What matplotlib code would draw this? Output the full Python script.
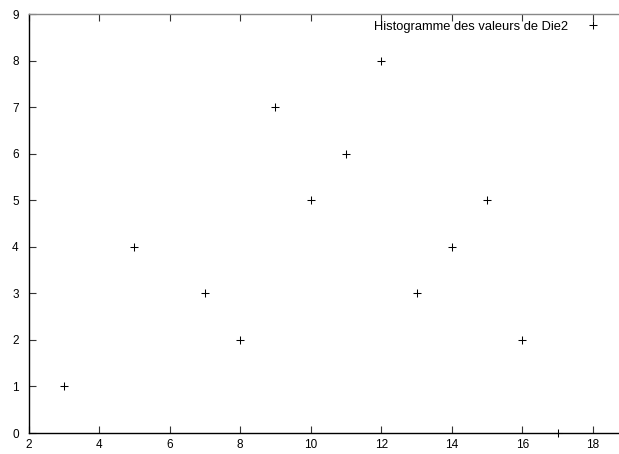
import matplotlib
matplotlib.use("Agg")
import matplotlib.pyplot as plt

# Data
valeurs = [3, 5, 7, 8, 9, 10, 11, 12, 13, 14, 15, 16, 17]
effectifs = [1, 4, 3, 2, 7, 5, 6, 8, 3, 4, 5, 2, 0]
xticks = [2, 4, 6, 8, 10, 12, 14, 16, 18]
yticks = [0, 1, 2, 3, 4, 5, 6, 7, 8, 9]
label = "Histogramme des valeurs de Die2"

plt.rcParams['font.family'] = ['Liberation Sans', 'DejaVu Sans']

fig = plt.figure(figsize=(6.19, 4.54), dpi=100)
ax = fig.add_axes([28.5/619, 21/454, 1 - 28.5/619, 419/454])

ax.plot(valeurs, effectifs, linestyle='none', marker='+', color='black',
        markersize=6, markeredgewidth=0.75, label=label, clip_on=False)

ax.set_xlim(2, 18.74)
ax.set_ylim(0, 9)
ax.set_xticks(xticks)
ax.set_yticks(yticks)

ax.spines['right'].set_visible(False)
ax.spines['top'].set_color('#888888')
ax.spines['left'].set_color('black')
ax.spines['bottom'].set_color('black')
for s in ax.spines.values():
    s.set_linewidth(1.0)

ax.tick_params(axis='x', direction='in', top=True, bottom=True, length=5,
               width=0.8, labelsize=8.5, pad=4, color='#333333')
ax.tick_params(axis='y', direction='in', left=True, right=False, length=5,
               width=0.8, labelsize=8.5, pad=7, color='#333333')

leg = ax.legend(loc='center right', bbox_to_anchor=(600/619, 1 - 27/454),
                bbox_transform=fig.transFigure, frameon=False,
                markerfirst=False, fontsize=9.3, handlelength=1.1,
                handletextpad=1.35, borderpad=0, borderaxespad=0)

fig.savefig("out.png", dpi=100)
